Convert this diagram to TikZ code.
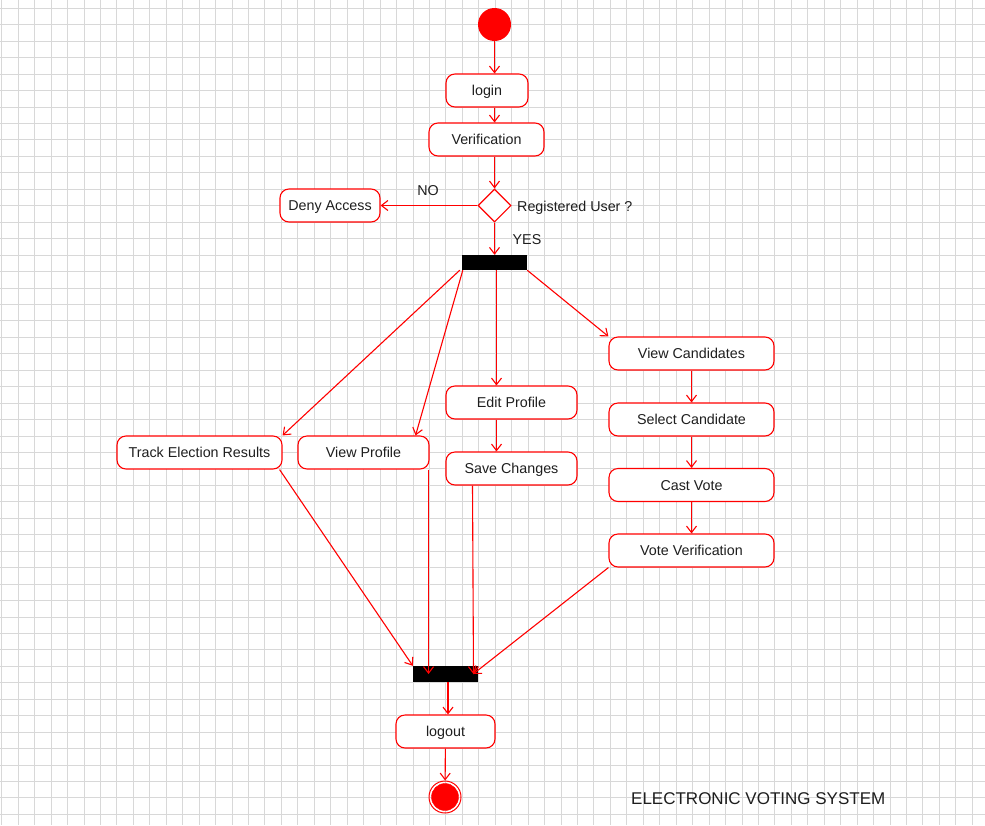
\documentclass[tikz,border=0pt]{standalone}
\usepackage{fontspec}
\setmainfont{Liberation Sans}
\usetikzlibrary{arrows.meta,shapes.geometric}
\definecolor{gridgray}{RGB}{216,216,216}
\definecolor{txt}{RGB}{30,30,30}

\begin{document}
\begin{tikzpicture}[x=1pt, y=-1pt,
    >={Straight Barb[length=6.5pt,width=10pt]},
    every node/.style={font=\fontsize{14.3}{16}\selectfont, text=txt, inner sep=0pt, text height=10pt, text depth=0pt},
    act/.style={draw=red, line width=1.1pt, rounded corners=9pt, fill=white, minimum height=33pt},
    syncbar/.style={fill=black, minimum width=65pt, minimum height=15pt},
    flow/.style={->, red, line width=1.1pt}]
    \useasboundingbox [fill=white] (0,0) rectangle (985,825);
    % grid paper
    \foreach \i in {0,...,59}
        \draw [gridgray, line width=0.9pt] (1.7+\i*16.45,0) -- (1.7+\i*16.45,825);
    \foreach \j in {0,...,49}
        \draw [gridgray, line width=0.9pt] (0,8.3+\j*16.45) -- (985,8.3+\j*16.45);

    \node [circle, fill=red, minimum size=33pt] (start) at (494.5,24.5) {};
    \node [act, minimum width=82pt] (login) at (487,90.5) {login};
    \node [act, minimum width=115pt] (verif) at (486.5,139.5) {Verification};
    \node [diamond, draw=red, line width=1.1pt, fill=white, minimum width=33pt, minimum height=33pt] (dec) at (494.5,205.5) {};
    \node [act, minimum width=100pt] (deny) at (330,205.5) {Deny Access};
    \node (no) at (428,190) {NO};
    \node [anchor=west] (regq) at (517,206) {Registered User ?};
    \node (yes) at (527,239) {YES};
    \node [syncbar] (fork) at (494.5,262.5) {};

    \node [act, minimum width=165pt] (track) at (199.5,452.5) {Track Election Results};
    \node [act, minimum width=131pt] (viewprof) at (363.5,452.5) {View Profile};
    \node [act, minimum width=131pt] (edit) at (511.5,402.5) {Edit Profile};
    \node [act, minimum width=131pt] (save) at (511.5,468.5) {Save Changes};
    \node [act, minimum width=165pt] (viewcand) at (691.5,353.5) {View Candidates};
    \node [act, minimum width=165pt] (select) at (691.5,419.5) {Select Candidate};
    \node [act, minimum width=165pt] (cast) at (691.5,485) {Cast Vote};
    \node [act, minimum width=165pt] (voteverif) at (691.5,550.5) {Vote Verification};

    \node [syncbar, minimum height=16pt] (join) at (445.5,674) {};
    \node [act, minimum width=99pt] (logout) at (445.5,731.5) {logout};
    \node [circle, draw=red, line width=1pt, minimum size=32pt] (endc) at (445,797) {};
    \draw [fill=red, red] (endc) circle [radius=13.5];
    \node [font=\fontsize{17}{20}\selectfont, text height=12pt, anchor=west] (title) at (631,798) {ELECTRONIC VOTING SYSTEM};

    % top part
    \draw [flow] (start) -- (login.north -| start);
    \draw [flow] (login.south -| start) -- (verif.north -| start);
    \draw [flow] (verif.south -| dec) -- (dec);
    \draw [flow] (dec) -- (deny);
    \draw [flow] (dec) -- (fork);

    % fork
    \coordinate (f1) at ([xshift=-2pt]fork.south west);
    \coordinate (f2) at ([xshift=1pt]fork.south west);
    \coordinate (f3) at ([xshift=2pt]fork.south);
    \draw [flow] (f1) -- (track.north east);
    \draw [flow] (f2) -- ([xshift=-14pt]viewprof.north east);
    \draw [flow] (f3) -- (f3 |- edit.north);
    \draw [flow] (fork.south east) -- (viewcand.north west);

    \coordinate (e1) at ([xshift=-15pt]edit.south);
    \draw [flow] (e1) -- (e1 |- save.north);
    \draw [flow] (viewcand) -- (select);
    \draw [flow] (select) -- (cast);
    \draw [flow] (cast) -- (voteverif);

    % join
    \coordinate (s1) at ([xshift=-39pt]save.south);
    \draw [flow] ([xshift=-3pt]track.south east) -- (join.north west);
    \draw [flow] ([xshift=-1pt]viewprof.south east) -- ([xshift=-1pt]viewprof.south east |- join);
    \draw [flow] (s1) -- ([xshift=1pt]s1 |- join);
    \draw [flow] (voteverif.south west) -- ([xshift=-5pt]join.east);
    \coordinate (j1) at ([xshift=2.5pt]join.south);
    \draw [flow] (j1) -- (j1 |- logout.north);
    \draw [flow] (logout) -- (endc);
\end{tikzpicture}
\end{document}
